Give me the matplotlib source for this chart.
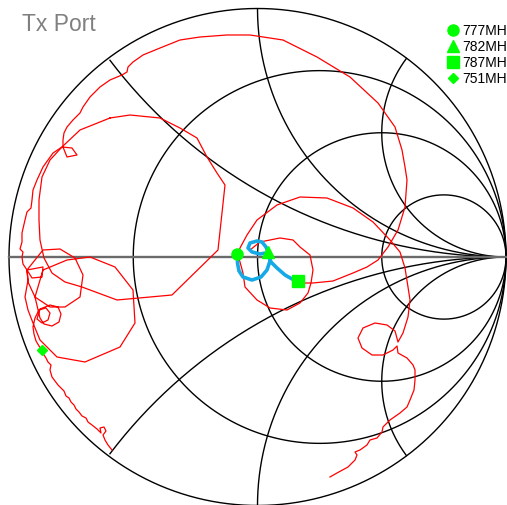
import numpy as np
import matplotlib.pyplot as plt
from matplotlib.lines import Line2D

plt.rcParams['font.family'] = ['Liberation Sans', 'DejaVu Sans']

# Smith chart grid values
r_circles = [1/3, 1.0, 3.0]
x_arcs = [0.5, 1.0, 2.0]

# reflection coefficient traces (real, imag)
red_a = [(-0.5855, -0.7767), (-0.6016, -0.7565), (-0.6137, -0.7364), (-0.6217, -0.7163),
         (-0.6097, -0.7002), (-0.6177, -0.6841), (-0.6338, -0.6881), (-0.6298, -0.7082),
         (-0.6459, -0.6921), (-0.6660, -0.6761), (-0.6821, -0.6640), (-0.6901, -0.6479),
         (-0.7062, -0.6398), (-0.7183, -0.6237), (-0.7304, -0.6117), (-0.7384, -0.5956),
         (-0.7505, -0.5835), (-0.7585, -0.5674), (-0.7706, -0.5594), (-0.7787, -0.5392),
         (-0.7907, -0.5272), (-0.8028, -0.5151), (-0.8149, -0.4990), (-0.8270, -0.4829),
         (-0.8350, -0.4547), (-0.8310, -0.4346), (-0.8431, -0.4225), (-0.8511, -0.4064),
         (-0.8592, -0.3944), (-0.8672, -0.3742), (-0.8793, -0.3581), (-0.8913, -0.3380),
         (-0.8994, -0.3099), (-0.9034, -0.2817), (-0.8954, -0.2455), (-0.8793, -0.2133),
         (-0.8511, -0.2052), (-0.8350, -0.2254), (-0.8431, -0.2535), (-0.8672, -0.2656),
         (-0.8873, -0.2495), (-0.8753, -0.2093), (-0.8350, -0.1932), (-0.8028, -0.2012),
         (-0.7907, -0.2294), (-0.7988, -0.2616), (-0.8270, -0.2777), (-0.8592, -0.2696),
         (-0.8753, -0.2455), (-0.8954, -0.1610), (-0.8632, -0.0523), (-0.7666, -0.0121),
         (-0.6740, 0.0000), (-0.5734, -0.0402), (-0.5010, -0.1328), (-0.4930, -0.2656),
         (-0.5533, -0.3622), (-0.6942, -0.4225), (-0.8068, -0.4024), (-0.8753, -0.3340),
         (-0.9034, -0.2656), (-0.9235, -0.2133), (-0.9356, -0.1610), (-0.9235, -0.0926),
         (-0.9276, -0.0523), (-0.8632, 0.0282), (-0.7948, 0.0322), (-0.7344, -0.0040),
         (-0.7022, -0.0724), (-0.7143, -0.1610), (-0.7746, -0.2012), (-0.8350, -0.2012),
         (-0.8954, -0.1610), (-0.9235, -0.1006), (-0.9276, -0.0523), (-0.8632, -0.0402),
         (-0.8672, -0.0805), (-0.9074, -0.0845), (-0.9276, -0.0523), (-0.9437, -0.0282),
         (-0.9477, 0.0000), (-0.9437, 0.0201), (-0.9557, 0.0322), (-0.9477, 0.0604),
         (-0.9477, 0.0966), (-0.9356, 0.1489), (-0.9276, 0.1811), (-0.9115, 0.1972),
         (-0.9074, 0.2294), (-0.9034, 0.2696), (-0.8873, 0.3099), (-0.8632, 0.3622),
         (-0.8431, 0.3903), (-0.8229, 0.4185), (-0.7867, 0.4427), (-0.7465, 0.4386),
         (-0.7264, 0.4105), (-0.7666, 0.4024), (-0.7827, 0.4427), (-0.7827, 0.4708),
         (-0.7787, 0.4990), (-0.7666, 0.5231), (-0.7425, 0.5513), (-0.7143, 0.5795),
         (-0.7022, 0.6036), (-0.6740, 0.6439), (-0.6338, 0.6841), (-0.5936, 0.7123),
         (-0.5453, 0.7324), (-0.5252, 0.7445), (-0.5211, 0.7646), (-0.5010, 0.7847),
         (-0.4608, 0.8129), (-0.3924, 0.8410), (-0.3119, 0.8732), (-0.2314, 0.8853),
         (-0.1227, 0.8934), (-0.0302, 0.8934), (0.1026, 0.8732), (0.2394, 0.8048),
         (0.3722, 0.7243), (0.4849, 0.6197), (0.5533, 0.5231), (0.5815, 0.4306),
         (0.5936, 0.3622), (0.6016, 0.3099), (0.5936, 0.2012), (0.5654, 0.1087),
         (0.5252, 0.0402), (0.4849, -0.0121), (0.4406, -0.0402), (0.3843, -0.0644),
         (0.3038, -0.0966), (0.2233, -0.1046), (0.1831, -0.1046), (0.1630, -0.0966)]

red_b = [(-0.5936, 0.5594), (-0.7143, 0.5111), (-0.7867, 0.4427), (-0.8350, 0.3903),
         (-0.8672, 0.3219), (-0.8793, 0.2294), (-0.8793, 0.1489), (-0.8753, 0.0684),
         (-0.8592, -0.0040), (-0.8270, -0.0644), (-0.7746, -0.1006), (-0.7062, -0.1207),
         (-0.5654, -0.1730), (-0.4326, -0.1610), (-0.3441, -0.1529), (-0.1590, 0.0282),
         (-0.1429, 0.1771), (-0.1308, 0.2897), (-0.1630, 0.3380), (-0.2032, 0.4024),
         (-0.2435, 0.4789), (-0.3119, 0.5191), (-0.3924, 0.5594), (-0.5131, 0.5714),
         (-0.5936, 0.5594)]

red_c = [(0.2918, -0.8853), (0.3199, -0.8692), (0.3642, -0.8451), (0.3924, -0.8169),
         (0.4004, -0.7968), (0.3924, -0.7847), (0.4125, -0.7767), (0.4406, -0.7565),
         (0.4527, -0.7364), (0.4809, -0.7284), (0.5010, -0.7042), (0.5050, -0.6841),
         (0.5332, -0.6559), (0.5734, -0.6278), (0.6016, -0.6036), (0.6137, -0.5755),
         (0.6298, -0.5352), (0.6338, -0.4950), (0.6338, -0.4547), (0.6258, -0.4346),
         (0.6016, -0.4064), (0.5654, -0.3863), (0.5614, -0.3581), (0.5453, -0.3742),
         (0.5050, -0.3944), (0.4608, -0.3944), (0.4205, -0.3662), (0.4044, -0.3260),
         (0.4245, -0.2857), (0.4728, -0.2656), (0.5211, -0.2736), (0.5533, -0.2978),
         (0.5654, -0.3421), (0.5855, -0.3058), (0.6056, -0.2414), (0.6137, -0.1730),
         (0.6056, -0.1207), (0.5936, -0.0443), (0.5734, 0.0201), (0.5332, 0.0684),
         (0.4648, 0.1408), (0.3843, 0.1972), (0.2797, 0.2374), (0.1710, 0.2414),
         (0.0785, 0.2093), (-0.0020, 0.1489), (-0.0423, 0.0885), (-0.0704, 0.0362),
         (-0.0805, 0.0101), (-0.0704, -0.0201), (-0.0584, -0.0644), (-0.0503, -0.1207),
         (-0.0020, -0.1730), (0.0503, -0.2052), (0.1187, -0.2133), (0.1710, -0.1851),
         (0.2032, -0.1449), (0.2153, -0.1046), (0.2233, -0.0523), (0.2113, 0.0080),
         (0.1710, 0.0402), (0.1429, 0.0684), (0.0905, 0.0765), (0.0503, 0.0684),
         (0.0101, 0.0604), (-0.0101, 0.0443), (-0.0302, 0.0282)]

blue = [(-0.0805, 0.0101), (-0.0805, -0.0241), (-0.0744, -0.0563), (-0.0584, -0.0805),
        (-0.0221, -0.0926), (0.0141, -0.0805), (0.0382, -0.0523), (0.0503, -0.0161),
        (0.0423, 0.0201), (0.0342, 0.0402), (0.0181, 0.0604), (-0.0020, 0.0644),
        (-0.0302, 0.0563), (-0.0382, 0.0362), (-0.0221, 0.0201), (0.0101, 0.0121),
        (0.0342, 0.0161), (0.0463, 0.0040), (0.0543, -0.0201), (0.0785, -0.0443),
        (0.1107, -0.0724), (0.1388, -0.0885), (0.1630, -0.0966)]

marker_labels = ['777MH', '782MH', '787MH', '751MH']
marker_shapes = ['o', '^', 's', 'D']
marker_sizes = [8, 8, 8, 5.5]
marker_re = [-0.0805, 0.0423, 0.1630, -0.8672]
marker_im = [0.0101, 0.0201, -0.0966, -0.3742]

fig = plt.figure(figsize=(5.07, 5.05), dpi=100)
ax = fig.add_axes([0, 0, 1, 1])
ax.set_xlim(-1.0362, 1.0040)
ax.set_ylim(-0.998, 1.0342)
ax.axis('off')

t = np.linspace(0, 2 * np.pi, 800)
# outer circle
ax.plot(np.cos(t), np.sin(t), color='black', lw=1.0, zorder=1)
for r in r_circles:
    c, rad = r / (r + 1), 1 / (r + 1)
    ax.plot(c + rad * np.cos(t), rad * np.sin(t), color='black', lw=1.0, zorder=1)
for x in x_arcs:
    for s in (1, -1):
        rad = 1 / x
        re = 1 + rad * np.cos(t)
        im = s * rad + rad * np.sin(t)
        inside = re ** 2 + im ** 2 <= 1.0001
        ax.plot(np.where(inside, re, np.nan), np.where(inside, im, np.nan),
                color='black', lw=1.0, zorder=1)
ax.plot([-1, 1], [0, 0], color='#6a6a6a', lw=1.7, zorder=1)

for tr in (red_a, red_b, red_c):
    tr = np.array(tr)
    ax.plot(tr[:, 0], tr[:, 1], color='#ff0000', lw=0.9, zorder=2)

b = np.array(blue)
ax.plot(b[:, 0], b[:, 1], color='#15a9e6', lw=2.6, solid_capstyle='round',
        solid_joinstyle='round', zorder=3)

handles = []
for lab, m, ms, xr, xi in zip(marker_labels, marker_shapes, marker_sizes, marker_re, marker_im):
    ax.plot([xr], [xi], marker=m, ms=ms, color='#00ff00', ls='none', zorder=4)
    handles.append(Line2D([], [], marker=m, ms=ms, color='#00ff00', ls='none'))

ax.legend(handles, marker_labels, loc='upper right', bbox_to_anchor=(1.0, 1 - 24 / 505),
          frameon=False, fontsize=10, handlelength=0.8, handletextpad=0.25,
          labelspacing=0.15, borderpad=0, borderaxespad=0)

ax.text(22 / 507, 1 - 31 / 505, 'Tx Port', transform=ax.transAxes, fontsize=16.5,
        color='#808080', va='baseline', ha='left')

fig.savefig('out.png', dpi=100)
